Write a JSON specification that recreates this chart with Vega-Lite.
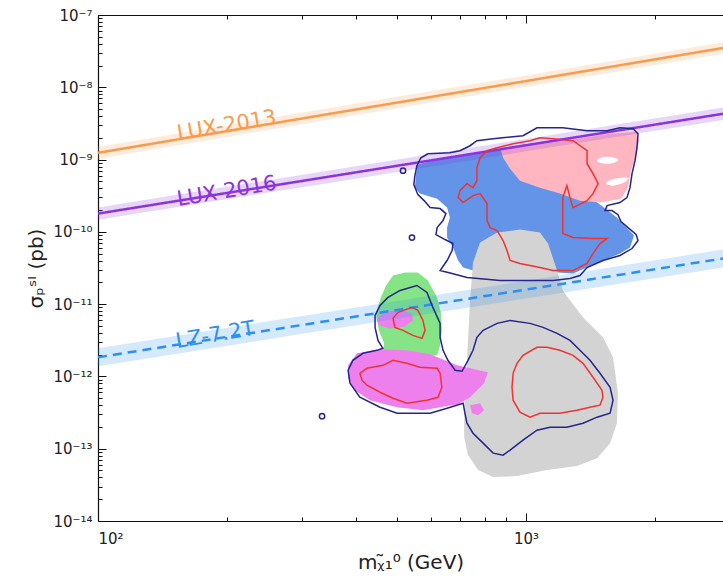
{
"$schema":"https://vega.github.io/schema/vega-lite/v6.json",
"width":625,"height":506,
"autosize":{"type":"none"},
"padding":{"left":98,"top":15,"right":0,"bottom":62},
"background":"white",
"config":{"view":{"stroke":null},"font":"DejaVu Sans",
 "axis":{"domainColor":"#111","domainWidth":1.2,"tickColor":"#111","tickWidth":1,"labelColor":"#222","labelFont":"DejaVu Sans","labelFontSize":15,"titleFont":"DejaVu Sans","titleFontWeight":"normal","titleColor":"#222","titleFontSize":20,"grid":false}},
"datasets":{
"poly":[
{"g":"blue","i":0,"m":556,"s":8.5e-10},{"g":"blue","i":1,"m":630,"s":1.027e-9},{"g":"blue","i":2,"m":740,"s":1.204e-9},{"g":"blue","i":3,"m":870,"s":1.368e-9},{"g":"blue","i":4,"m":1022,"s":1.554e-9},{"g":"blue","i":5,"m":1200,"s":7.02e-10},{"g":"blue","i":6,"m":1450,"s":2.7e-10},{"g":"blue","i":7,"m":1631,"s":1.576e-10},{"g":"blue","i":8,"m":1788,"s":8.89e-11},{"g":"blue","i":9,"m":1750,"s":6.07e-11},{"g":"blue","i":10,"m":1658,"s":5.01e-11},{"g":"blue","i":11,"m":1513,"s":4.01e-11},{"g":"blue","i":12,"m":1389,"s":3.21e-11},{"g":"blue","i":13,"m":1288,"s":2.655e-11},{"g":"blue","i":14,"m":1182,"s":2.74e-11},{"g":"blue","i":15,"m":968,"s":2.74e-11},{"g":"blue","i":16,"m":781,"s":2.74e-11},{"g":"blue","i":17,"m":713,"s":3.21e-11},{"g":"blue","i":18,"m":694,"s":4.01e-11},{"g":"blue","i":19,"m":675,"s":6.07e-11},{"g":"blue","i":20,"m":654,"s":8.34e-11},{"g":"blue","i":21,"m":654,"s":1.146e-10},{"g":"blue","i":22,"m":664,"s":1.576e-10},{"g":"blue","i":23,"m":654,"s":2.165e-10},{"g":"blue","i":24,"m":620,"s":2.88e-10},{"g":"blue","i":25,"m":565,"s":3.38e-10},{"g":"blue","i":26,"m":550,"s":4.09e-10},
{"g":"gray","i":0,"m":752,"s":3.77e-11},{"g":"gray","i":1,"m":781,"s":7.11e-11},{"g":"gray","i":2,"m":856,"s":9.78e-11},{"g":"gray","i":3,"m":968,"s":1.075e-10},{"g":"gray","i":4,"m":1078,"s":9.78e-11},{"g":"gray","i":5,"m":1126,"s":6.89e-11},{"g":"gray","i":6,"m":1182,"s":2.92e-11},{"g":"gray","i":7,"m":1219,"s":1.546e-11},{"g":"gray","i":8,"m":1359,"s":6.56e-12},{"g":"gray","i":9,"m":1513,"s":3.47e-12},{"g":"gray","i":10,"m":1597,"s":1.84e-12},{"g":"gray","i":11,"m":1640,"s":5.85e-13},{"g":"gray","i":12,"m":1631,"s":2.25e-13},{"g":"gray","i":13,"m":1572,"s":1.194e-13},{"g":"gray","i":14,"m":1466,"s":7.41e-14},{"g":"gray","i":15,"m":1315,"s":5.75e-14},{"g":"gray","i":16,"m":1120,"s":5.06e-14},{"g":"gray","i":17,"m":953,"s":4.18e-14},{"g":"gray","i":18,"m":838,"s":4.05e-14},{"g":"gray","i":19,"m":773,"s":5.06e-14},{"g":"gray","i":20,"m":732,"s":8.16e-14},{"g":"gray","i":21,"m":717,"s":1.445e-13},{"g":"gray","i":22,"m":717,"s":3.41e-13},{"g":"gray","i":23,"m":724,"s":8.85e-13},{"g":"gray","i":24,"m":732,"s":3.16e-12},{"g":"gray","i":25,"m":740,"s":1.125e-11},
{"g":"pink","i":0,"m":870,"s":1.458e-9},{"g":"pink","i":1,"m":1022,"s":1.655e-9},{"g":"pink","i":2,"m":1267,"s":1.88e-9},{"g":"pink","i":3,"m":1572,"s":2.274e-9},{"g":"pink","i":4,"m":1817,"s":2.424e-9},{"g":"pink","i":5,"m":1837,"s":1.821e-9},{"g":"pink","i":6,"m":1808,"s":1.13e-9},{"g":"pink","i":7,"m":1759,"s":7.02e-10},{"g":"pink","i":8,"m":1731,"s":4.09e-10},{"g":"pink","i":9,"m":1667,"s":2.88e-10},{"g":"pink","i":10,"m":1489,"s":2.54e-10},{"g":"pink","i":11,"m":1337,"s":2.7e-10},{"g":"pink","i":12,"m":1200,"s":3.38e-10},{"g":"pink","i":13,"m":1078,"s":4.09e-10},{"g":"pink","i":14,"m":968,"s":5.11e-10},{"g":"pink","i":15,"m":918,"s":7.48e-10},{"g":"pink","i":16,"m":884,"s":1.06e-9},
{"g":"hole1","i":0,"m":1466,"s":9.96e-10},{"g":"hole1","i":1,"m":1530,"s":1.095e-9},{"g":"hole1","i":2,"m":1614,"s":1.06e-9},{"g":"hole1","i":3,"m":1640,"s":9.65e-10},{"g":"hole1","i":4,"m":1572,"s":8.77e-10},{"g":"hole1","i":5,"m":1489,"s":9.05e-10},
{"g":"hole2","i":0,"m":1538,"s":4.79e-10},{"g":"hole2","i":1,"m":1614,"s":5.44e-10},{"g":"hole2","i":2,"m":1731,"s":5.62e-10},{"g":"hole2","i":3,"m":1690,"s":4.79e-10},{"g":"hole2","i":4,"m":1589,"s":4.36e-10},
{"g":"green","i":0,"m":489,"s":2.49e-11},{"g":"green","i":1,"m":521.5,"s":2.74e-11},{"g":"green","i":2,"m":559,"s":2.74e-11},{"g":"green","i":3,"m":590,"s":2.125e-11},{"g":"green","i":4,"m":620,"s":1.238e-11},{"g":"green","i":5,"m":633,"s":7.44e-12},{"g":"green","i":6,"m":636,"s":4.34e-12},{"g":"green","i":7,"m":630,"s":2.69e-12},{"g":"green","i":8,"m":620,"s":1.96e-12},{"g":"green","i":9,"m":536,"s":1.78e-12},{"g":"green","i":10,"m":463,"s":1.96e-12},{"g":"green","i":11,"m":466,"s":2.87e-12},{"g":"green","i":12,"m":453,"s":4.34e-12},{"g":"green","i":13,"m":446,"s":7.44e-12},{"g":"green","i":14,"m":458,"s":1.238e-11},{"g":"green","i":15,"m":471,"s":1.813e-11},
{"g":"mag","i":0,"m":384,"s":1.425e-12},{"g":"mag","i":1,"m":403,"s":2.09e-12},{"g":"mag","i":2,"m":456,"s":2.37e-12},{"g":"mag","i":3,"m":527,"s":2.3e-12},{"g":"mag","i":4,"m":597,"s":2.02e-12},{"g":"mag","i":5,"m":690,"s":1.425e-12},{"g":"mag","i":6,"m":815,"s":1.141e-12},{"g":"mag","i":7,"m":798,"s":8.04e-13},{"g":"mag","i":8,"m":740,"s":5.15e-13},{"g":"mag","i":9,"m":694,"s":4.12e-13},{"g":"mag","i":10,"m":630,"s":3.75e-13},{"g":"mag","i":11,"m":574.5,"s":3.41e-13},{"g":"mag","i":12,"m":499.5,"s":3.75e-13},{"g":"mag","i":13,"m":432,"s":4.685e-13},{"g":"mag","i":14,"m":398.5,"s":6.44e-13},{"g":"mag","i":15,"m":384,"s":9.43e-13},
{"g":"mag2","i":0,"m":740,"s":3.996e-13},{"g":"mag2","i":1,"m":781,"s":4.26e-13},{"g":"mag2","i":2,"m":798,"s":3.41e-13},{"g":"mag2","i":3,"m":772.6,"s":2.908e-13},{"g":"mag2","i":4,"m":748,"s":3.1e-13},
{"g":"mag3","i":0,"m":448.5,"s":6.35e-12},{"g":"mag3","i":1,"m":468,"s":7.93e-12},{"g":"mag3","i":2,"m":508,"s":8.19e-12},{"g":"mag3","i":3,"m":541.5,"s":7.44e-12},{"g":"mag3","i":4,"m":544.4,"s":5.96e-12},{"g":"mag3","i":5,"m":521.5,"s":4.92e-12},{"g":"mag3","i":6,"m":481,"s":4.62e-12},{"g":"mag3","i":7,"m":453.4,"s":5.084e-12}
],
"contour":[
{"g":"nU","i":0,"m":590,"s":1.204e-9},{"g":"nU","i":1,"m":664,"s":1.243e-9},{"g":"nU","i":2,"m":701,"s":1.325e-9},{"g":"nU","i":3,"m":740,"s":1.554e-9},{"g":"nU","i":4,"m":768,"s":1.821e-9},{"g":"nU","i":5,"m":838,"s":1.941e-9},{"g":"nU","i":6,"m":984,"s":2.135e-9},{"g":"nU","i":7,"m":1061,"s":2.753e-9},{"g":"nU","i":8,"m":1219,"s":2.753e-9},{"g":"nU","i":9,"m":1389,"s":2.502e-9},{"g":"nU","i":10,"m":1547,"s":2.502e-9},{"g":"nU","i":11,"m":1658,"s":2.753e-9},{"g":"nU","i":12,"m":1779,"s":2.667e-9},{"g":"nU","i":13,"m":1827,"s":2.274e-9},{"g":"nU","i":14,"m":1817,"s":1.458e-9},{"g":"nU","i":15,"m":1798,"s":9.645e-10},{"g":"nU","i":16,"m":1769,"s":6.38e-10},{"g":"nU","i":17,"m":1750,"s":4.09e-10},{"g":"nU","i":18,"m":1721,"s":2.975e-10},{"g":"nU","i":19,"m":1658,"s":2.54e-10},{"g":"nU","i":20,"m":1547,"s":2.307e-10},{"g":"nU","i":21,"m":1530,"s":1.968e-10},{"g":"nU","i":22,"m":1589,"s":1.968e-10},{"g":"nU","i":23,"m":1640,"s":1.73e-10},{"g":"nU","i":24,"m":1667,"s":1.387e-10},{"g":"nU","i":25,"m":1731,"s":1.146e-10},{"g":"nU","i":26,"m":1808,"s":9.18e-11},{"g":"nU","i":27,"m":1827,"s":7.58e-11},{"g":"nU","i":28,"m":1769,"s":5.88e-11},{"g":"nU","i":29,"m":1658,"s":4.706e-11},{"g":"nU","i":30,"m":1513,"s":4.014e-11},{"g":"nU","i":31,"m":1389,"s":3.21e-11},{"g":"nU","i":32,"m":1337,"s":2.491e-11},{"g":"nU","i":33,"m":1267,"s":2.264e-11},{"g":"nU","i":34,"m":1157,"s":2.125e-11},{"g":"nU","i":35,"m":968,"s":2.125e-11},{"g":"nU","i":36,"m":870,"s":2.125e-11},{"g":"nU","i":37,"m":728,"s":2.338e-11},{"g":"nU","i":38,"m":672,"s":2.655e-11},{"g":"nU","i":39,"m":630,"s":2.921e-11},{"g":"nU","i":40,"m":654,"s":4.014e-11},{"g":"nU","i":41,"m":672,"s":5.516e-11},{"g":"nU","i":42,"m":675,"s":6.89e-11},{"g":"nU","i":43,"m":647,"s":7.83e-11},{"g":"nU","i":44,"m":616,"s":9.18e-11},{"g":"nU","i":45,"m":620,"s":1.146e-10},{"g":"nU","i":46,"m":640,"s":1.432e-10},{"g":"nU","i":47,"m":650,"s":1.79e-10},{"g":"nU","i":48,"m":630,"s":2.1e-10},{"g":"nU","i":49,"m":597,"s":2.165e-10},{"g":"nU","i":50,"m":578,"s":2.704e-10},{"g":"nU","i":51,"m":559,"s":3.27e-10},{"g":"nU","i":52,"m":547,"s":4.5e-10},{"g":"nU","i":53,"m":550,"s":5.987e-10},{"g":"nU","i":54,"m":556,"s":8.228e-10},{"g":"nU","i":55,"m":568,"s":1.06e-9},{"g":"nU","i":56,"m":590,"s":1.204e-9},
{"g":"nL","i":0,"m":508,"s":1.546e-11},{"g":"nL","i":1,"m":556,"s":1.813e-11},{"g":"nL","i":2,"m":587,"s":1.451e-11},{"g":"nL","i":3,"m":606,"s":9.01e-12},{"g":"nL","i":4,"m":630,"s":5.42e-12},{"g":"nL","i":5,"m":630,"s":3.47e-12},{"g":"nL","i":6,"m":640,"s":2.296e-12},{"g":"nL","i":7,"m":657,"s":1.671e-12},{"g":"nL","i":8,"m":683,"s":1.216e-12},{"g":"nL","i":9,"m":709,"s":1.178e-12},{"g":"nL","i":10,"m":732,"s":1.671e-12},{"g":"nL","i":11,"m":752,"s":2.296e-12},{"g":"nL","i":12,"m":768,"s":3.47e-12},{"g":"nL","i":13,"m":794,"s":4.337e-12},{"g":"nL","i":14,"m":856,"s":5.42e-12},{"g":"nL","i":15,"m":918,"s":5.96e-12},{"g":"nL","i":16,"m":1022,"s":5.42e-12},{"g":"nL","i":17,"m":1096,"s":4.77e-12},{"g":"nL","i":18,"m":1182,"s":3.94e-12},{"g":"nL","i":19,"m":1267,"s":3.156e-12},{"g":"nL","i":20,"m":1337,"s":2.296e-12},{"g":"nL","i":21,"m":1411,"s":1.671e-12},{"g":"nL","i":22,"m":1489,"s":1.105e-12},{"g":"nL","i":23,"m":1572,"s":7.08e-13},{"g":"nL","i":24,"m":1597,"s":4.685e-13},{"g":"nL","i":25,"m":1572,"s":3.1e-13},{"g":"nL","i":26,"m":1466,"s":2.73e-13},{"g":"nL","i":27,"m":1359,"s":2.25e-13},{"g":"nL","i":28,"m":1246,"s":1.986e-13},{"g":"nL","i":29,"m":1138,"s":1.986e-13},{"g":"nL","i":30,"m":1061,"s":1.805e-13},{"g":"nL","i":31,"m":984,"s":1.314e-13},{"g":"nL","i":32,"m":918,"s":9.56e-14},{"g":"nL","i":33,"m":884,"s":8.155e-14},{"g":"nL","i":34,"m":838,"s":8.69e-14},{"g":"nL","i":35,"m":794,"s":1.194e-13},{"g":"nL","i":36,"m":752,"s":1.641e-13},{"g":"nL","i":37,"m":728,"s":2.25e-13},{"g":"nL","i":38,"m":720,"s":3.1e-13},{"g":"nL","i":39,"m":713,"s":4.26e-13},{"g":"nL","i":40,"m":654,"s":3.63e-13},{"g":"nL","i":41,"m":597,"s":3.1e-13},{"g":"nL","i":42,"m":500,"s":3.1e-13},{"g":"nL","i":43,"m":456,"s":3.75e-13},{"g":"nL","i":44,"m":409,"s":5.15e-13},{"g":"nL","i":45,"m":388,"s":8.04e-13},{"g":"nL","i":46,"m":384,"s":1.216e-12},{"g":"nL","i":47,"m":394,"s":1.671e-12},{"g":"nL","i":48,"m":416,"s":2.09e-12},{"g":"nL","i":49,"m":448.5,"s":2.296e-12},{"g":"nL","i":50,"m":463,"s":2.45e-12},{"g":"nL","i":51,"m":451,"s":3.156e-12},{"g":"nL","i":52,"m":444,"s":4.77e-12},{"g":"nL","i":53,"m":444,"s":6.985e-12},{"g":"nL","i":54,"m":456,"s":9.6e-12},{"g":"nL","i":55,"m":476,"s":1.238e-11},{"g":"nL","i":56,"m":508,"s":1.546e-11},
{"g":"r1","i":0,"m":1078,"s":2.003e-9},{"g":"r1","i":1,"m":1157,"s":1.941e-9},{"g":"r1","i":2,"m":1288,"s":1.821e-9},{"g":"r1","i":3,"m":1389,"s":1.325e-9},{"g":"r1","i":4,"m":1389,"s":8.77e-10},{"g":"r1","i":5,"m":1434,"s":6.38e-10},{"g":"r1","i":6,"m":1474,"s":4.64e-10},{"g":"r1","i":7,"m":1434,"s":3.38e-10},{"g":"r1","i":8,"m":1389,"s":2.704e-10},{"g":"r1","i":9,"m":1288,"s":2.165e-10},{"g":"r1","i":10,"m":1267,"s":2.975e-10},{"g":"r1","i":11,"m":1246,"s":4.357e-10},{"g":"r1","i":12,"m":1219,"s":2.975e-10},{"g":"r1","i":13,"m":1219,"s":1.968e-10},{"g":"r1","i":14,"m":1219,"s":1.432e-10},{"g":"r1","i":15,"m":1219,"s":9.47e-11},{"g":"r1","i":16,"m":1288,"s":8.34e-11},{"g":"r1","i":17,"m":1434,"s":8.08e-11},{"g":"r1","i":18,"m":1547,"s":8.08e-11},{"g":"r1","i":19,"m":1489,"s":6.89e-11},{"g":"r1","i":20,"m":1434,"s":5.01e-11},{"g":"r1","i":21,"m":1389,"s":3.65e-11},{"g":"r1","i":22,"m":1288,"s":2.921e-11},{"g":"r1","i":23,"m":1157,"s":2.921e-11},{"g":"r1","i":24,"m":1078,"s":3.21e-11},{"g":"r1","i":25,"m":968,"s":3.65e-11},{"g":"r1","i":26,"m":918,"s":4.014e-11},{"g":"r1","i":27,"m":903,"s":5.516e-11},{"g":"r1","i":28,"m":884,"s":7.581e-11},{"g":"r1","i":29,"m":856,"s":1.042e-10},{"g":"r1","i":30,"m":824,"s":1.146e-10},{"g":"r1","i":31,"m":811,"s":1.432e-10},{"g":"r1","i":32,"m":811,"s":2.46e-10},{"g":"r1","i":33,"m":781,"s":3.38e-10},{"g":"r1","i":34,"m":752,"s":3.17e-10},{"g":"r1","i":35,"m":713,"s":2.54e-10},{"g":"r1","i":36,"m":694,"s":2.975e-10},{"g":"r1","i":37,"m":701,"s":3.717e-10},{"g":"r1","i":38,"m":728,"s":4.64e-10},{"g":"r1","i":39,"m":752,"s":4.09e-10},{"g":"r1","i":40,"m":768,"s":5.108e-10},{"g":"r1","i":41,"m":768,"s":7.72e-10},{"g":"r1","i":42,"m":781,"s":1.06e-9},{"g":"r1","i":43,"m":811,"s":1.325e-9},{"g":"r1","i":44,"m":856,"s":1.458e-9},{"g":"r1","i":45,"m":933,"s":1.655e-9},{"g":"r1","i":46,"m":1022,"s":1.821e-9},{"g":"r1","i":47,"m":1078,"s":2.003e-9},
{"g":"r2","i":0,"m":502,"s":7.69e-12},{"g":"r2","i":1,"m":541.5,"s":9.01e-12},{"g":"r2","i":2,"m":559,"s":8.19e-12},{"g":"r2","i":3,"m":574.5,"s":5.96e-12},{"g":"r2","i":4,"m":581,"s":4.34e-12},{"g":"r2","i":5,"m":571.5,"s":3.36e-12},{"g":"r2","i":6,"m":544,"s":3.7e-12},{"g":"r2","i":7,"m":516,"s":4.34e-12},{"g":"r2","i":8,"m":494,"s":4.77e-12},{"g":"r2","i":9,"m":489,"s":6.35e-12},{"g":"r2","i":10,"m":502,"s":7.69e-12},
{"g":"r3","i":0,"m":409,"s":1.105e-12},{"g":"r3","i":1,"m":425,"s":1.295e-12},{"g":"r3","i":2,"m":463,"s":1.425e-12},{"g":"r3","i":3,"m":489,"s":1.671e-12},{"g":"r3","i":4,"m":527,"s":1.519e-12},{"g":"r3","i":5,"m":565,"s":1.337e-12},{"g":"r3","i":6,"m":620,"s":1.295e-12},{"g":"r3","i":7,"m":630,"s":1.105e-12},{"g":"r3","i":8,"m":636,"s":7.08e-13},{"g":"r3","i":9,"m":623,"s":5.15e-13},{"g":"r3","i":10,"m":587,"s":4.685e-13},{"g":"r3","i":11,"m":527,"s":4.26e-13},{"g":"r3","i":12,"m":489,"s":4.99e-13},{"g":"r3","i":13,"m":456,"s":6.04e-13},{"g":"r3","i":14,"m":425,"s":7.55e-13},{"g":"r3","i":15,"m":414,"s":8.85e-13},{"g":"r3","i":16,"m":409,"s":1.105e-12},
{"g":"r4","i":0,"m":933,"s":1.105e-12},{"g":"r4","i":1,"m":953,"s":1.519e-12},{"g":"r4","i":2,"m":984,"s":1.959e-12},{"g":"r4","i":3,"m":1061,"s":2.53e-12},{"g":"r4","i":4,"m":1120,"s":2.53e-12},{"g":"r4","i":5,"m":1200,"s":2.296e-12},{"g":"r4","i":6,"m":1288,"s":1.959e-12},{"g":"r4","i":7,"m":1359,"s":1.519e-12},{"g":"r4","i":8,"m":1434,"s":9.73e-13},{"g":"r4","i":9,"m":1505,"s":6.44e-13},{"g":"r4","i":10,"m":1513,"s":5.15e-13},{"g":"r4","i":11,"m":1489,"s":4.0e-13},{"g":"r4","i":12,"m":1411,"s":3.75e-13},{"g":"r4","i":13,"m":1315,"s":3.41e-13},{"g":"r4","i":14,"m":1200,"s":3.1e-13},{"g":"r4","i":15,"m":1078,"s":3.1e-13},{"g":"r4","i":16,"m":1022,"s":2.73e-13},{"g":"r4","i":17,"m":968,"s":3.2e-13},{"g":"r4","i":18,"m":933,"s":4.685e-13},{"g":"r4","i":19,"m":927.5,"s":7.08e-13},{"g":"r4","i":20,"m":933,"s":1.105e-12}
],
"lines":[
{"k":"LUX-2013","m":100,"s":1.24e-9,"lo":1.03e-9,"hi":1.49e-9},{"k":"LUX-2013","m":316,"s":3.9e-9,"lo":3.25e-9,"hi":4.68e-9},{"k":"LUX-2013","m":1000,"s":1.22e-8,"lo":1.02e-8,"hi":1.46e-8},{"k":"LUX-2013","m":2886,"s":3.5e-8,"lo":2.92e-8,"hi":4.2e-8},
{"k":"LUX 2016","m":100,"s":1.79e-10,"lo":1.47e-10,"hi":2.18e-10},{"k":"LUX 2016","m":316,"s":5.32e-10,"lo":4.36e-10,"hi":6.49e-10},{"k":"LUX 2016","m":1000,"s":1.58e-9,"lo":1.3e-9,"hi":1.93e-9},{"k":"LUX 2016","m":2886,"s":4.3e-9,"lo":3.52e-9,"hi":5.25e-9},
{"k":"LZ-7.2T","m":100,"s":1.84e-12,"lo":1.38e-12,"hi":2.45e-12},{"k":"LZ-7.2T","m":316,"s":5.41e-12,"lo":4.07e-12,"hi":7.2e-12},{"k":"LZ-7.2T","m":1000,"s":1.59e-11,"lo":1.2e-11,"hi":2.11e-11},{"k":"LZ-7.2T","m":2886,"s":4.28e-11,"lo":3.22e-11,"hi":5.69e-11}
],
"labels":[
{"k":"LUX-2013","m":201,"s":2.42e-9},{"k":"LUX 2016","m":201,"s":2.97e-10},{"k":"LZ-7.2T","m":189,"s":3.06e-12}
],
"pts":[{"m":333.8,"s":2.82e-13},{"m":516,"s":7.02e-10},{"m":541.5,"s":8.34e-11}]
},
"resolve":{"axis":{"x":"independent","y":"independent"}},
"layer":[
{"data":{"name":"poly"},"transform":[{"filter":"datum.g=='blue'"}],
 "mark":{"type":"line","fill":"#6394e8","strokeOpacity":0,"clip":true},
 "encoding":{
  "x":{"field":"m","type":"quantitative","scale":{"type":"log","domain":[100,2886],"nice":false},
   "axis":{"orient":"bottom","values":[100,200,300,400,500,600,700,800,900,1000,2000],"labelExpr":"datum.value == 100 ? '10²' : datum.value == 1000 ? '10³' : ''","tickSize":{"condition":{"test":"datum.value == 100 || datum.value == 1000","value":-8},"value":-4},"labelPadding":18,"title":"mᵪ̃₁⁰ (GeV)","titlePadding":6}},
  "y":{"field":"s","type":"quantitative","scale":{"type":"log","domain":[1e-14,1e-7],"nice":false},
   "axis":{"orient":"left","values":[1e-14,2e-14,3e-14,4e-14,5e-14,6e-14,7e-14,8e-14,9e-14,1e-13,2e-13,3e-13,4e-13,5e-13,6e-13,7e-13,8e-13,9e-13,1e-12,2e-12,3e-12,4e-12,5e-12,6e-12,7e-12,8e-12,9e-12,1e-11,2e-11,3e-11,4e-11,5e-11,6e-11,7e-11,8e-11,9e-11,1e-10,2e-10,3e-10,4e-10,5e-10,6e-10,7e-10,8e-10,9e-10,1e-9,2e-9,3e-9,4e-9,5e-9,6e-9,7e-9,8e-9,9e-9,1e-8,2e-8,3e-8,4e-8,5e-8,6e-8,7e-8,8e-8,9e-8,1e-7],
    "labelExpr":"datum.value == 1e-7 ? '10⁻⁷' : datum.value == 1e-8 ? '10⁻⁸' : datum.value == 1e-9 ? '10⁻⁹' : datum.value == 1e-10 ? '10⁻¹⁰' : datum.value == 1e-11 ? '10⁻¹¹' : datum.value == 1e-12 ? '10⁻¹²' : datum.value == 1e-13 ? '10⁻¹³' : datum.value == 1e-14 ? '10⁻¹⁴' : ''",
    "tickSize":{"condition":{"test":"abs(log(datum.value)/LN10 - round(log(datum.value)/LN10)) < 0.001","value":-8},"value":-4},"labelPadding":14,"title":"σₚˢᴵ (pb)","titlePadding":6}},
  "order":{"field":"i"}}},
{"data":{"name":"poly"},"transform":[{"filter":"datum.g=='gray'"}],
 "mark":{"type":"line","fill":"#d3d3d3","strokeOpacity":0,"clip":true},
 "encoding":{"x":{"field":"m","type":"quantitative","axis":{"orient":"top","values":[100,200,300,400,500,600,700,800,900,1000,2000],"labels":false,"title":null,"tickSize":{"condition":{"test":"datum.value == 100 || datum.value == 1000","value":-8},"value":-4}}},"y":{"field":"s","type":"quantitative","axis":null},"order":{"field":"i"}}},
{"data":{"name":"poly"},"transform":[{"filter":"datum.g=='pink'"}],
 "mark":{"type":"line","fill":"#ffb6c1","strokeOpacity":0,"clip":true},
 "encoding":{"x":{"field":"m","type":"quantitative","axis":null},"y":{"field":"s","type":"quantitative","axis":null},"order":{"field":"i"}}},
{"data":{"name":"poly"},"transform":[{"filter":"datum.g=='hole1' || datum.g=='hole2'"}],
 "mark":{"type":"line","fill":"white","strokeOpacity":0,"clip":true,"interpolate":"cardinal-closed"},
 "encoding":{"x":{"field":"m","type":"quantitative","axis":null},"y":{"field":"s","type":"quantitative","axis":null},"detail":{"field":"g"},"order":{"field":"i"}}},
{"data":{"name":"poly"},"transform":[{"filter":"datum.g=='green'"}],
 "mark":{"type":"line","fill":"#85e485","strokeOpacity":0,"clip":true},
 "encoding":{"x":{"field":"m","type":"quantitative","axis":null},"y":{"field":"s","type":"quantitative","axis":null},"order":{"field":"i"}}},
{"data":{"name":"poly"},"transform":[{"filter":"datum.g=='mag' || datum.g=='mag2' || datum.g=='mag3'"}],
 "mark":{"type":"line","fill":"#ee80ee","strokeOpacity":0,"clip":true},
 "encoding":{"x":{"field":"m","type":"quantitative","axis":null},"y":{"field":"s","type":"quantitative","axis":null},"detail":{"field":"g"},"order":{"field":"i"}}},
{"data":{"name":"lines"},
 "mark":{"type":"area","opacity":0.2,"clip":true},
 "encoding":{"x":{"field":"m","type":"quantitative","axis":null},"y":{"field":"lo","type":"quantitative","axis":null},"y2":{"field":"hi"},
  "color":{"field":"k","type":"nominal","scale":{"domain":["LUX-2013","LUX 2016","LZ-7.2T"],"range":["#f99b4c","#8a33de","#2e8ff0"]},"legend":null}}},
{"data":{"name":"lines"},
 "mark":{"type":"line","strokeWidth":2.5,"clip":true},
 "encoding":{"x":{"field":"m","type":"quantitative","axis":null},"y":{"field":"s","type":"quantitative","axis":null},
  "color":{"field":"k","type":"nominal","legend":null},
  "strokeDash":{"field":"k","type":"nominal","scale":{"domain":["LUX-2013","LUX 2016","LZ-7.2T"],"range":[[1,0],[1,0],[9,6]]},"legend":null}}},
{"data":{"name":"contour"},"transform":[{"filter":"datum.g=='nU' || datum.g=='nL'"}],
 "mark":{"type":"line","stroke":"#25258c","strokeWidth":1.5,"clip":true},
 "encoding":{"x":{"field":"m","type":"quantitative","axis":null},"y":{"field":"s","type":"quantitative","axis":null},"detail":{"field":"g"},"order":{"field":"i"}}},
{"data":{"name":"contour"},"transform":[{"filter":"datum.g=='r1' || datum.g=='r2' || datum.g=='r3' || datum.g=='r4'"}],
 "mark":{"type":"line","stroke":"#f03232","strokeWidth":1.5,"clip":true},
 "encoding":{"x":{"field":"m","type":"quantitative","axis":null},"y":{"field":"s","type":"quantitative","axis":null},"detail":{"field":"g"},"order":{"field":"i"}}},
{"data":{"name":"pts"},
 "mark":{"type":"point","shape":"circle","filled":false,"stroke":"#25258c","strokeWidth":1.5,"size":28,"opacity":1},
 "encoding":{"x":{"field":"m","type":"quantitative","axis":null},"y":{"field":"s","type":"quantitative","axis":null}}},
{"data":{"name":"labels"},
 "mark":{"type":"text","angle":350.5,"fontSize":21,"font":"DejaVu Sans","align":"center","baseline":"alphabetic"},
 "encoding":{"x":{"field":"m","type":"quantitative","axis":null},"y":{"field":"s","type":"quantitative","axis":null},"text":{"field":"k"},
  "color":{"field":"k","type":"nominal","legend":null}}}
]
}
